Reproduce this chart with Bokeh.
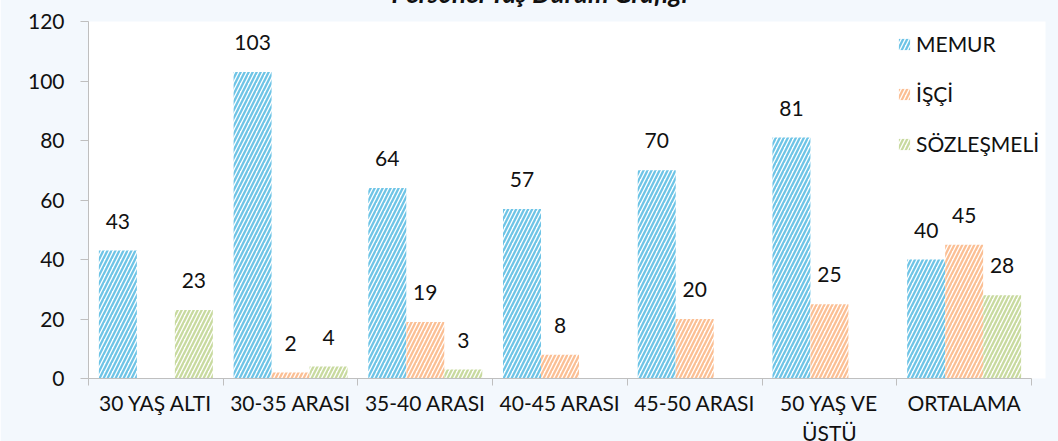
import numpy as np
from bokeh.plotting import figure
from bokeh.models import (FixedTicker, Range1d, Legend, LegendItem,
                          LabelSet, ColumnDataSource)
from bokeh.core.properties import value
from bokeh.embed import file_html
from bokeh.resources import INLINE

title_text = "Personel Yaş Durum Grafiği"
categories = ["30 YAŞ ALTI", "30-35 ARASI", "35-40 ARASI", "40-45 ARASI",
              "45-50 ARASI", "50 YAŞ VE\nÜSTÜ", "ORTALAMA"]
series_names = ["MEMUR", "İŞÇİ", "SÖZLEŞMELİ"]
memur = [43, 103, 64, 57, 70, 81, 40]
isci = [None, 2, 19, 8, 20, 25, 45]
sozlesmeli = [23, 4, 3, None, None, None, 28]
y_ticks = [0, 20, 40, 60, 80, 100, 120]
colors = ["#6EC4E6", "#FBBF94", "#C8DA9F"]

FONT = "Lato"
FS = "21px"
TXT = "#111111"
AX = "#BFBFBF"
SHIFT = 45                      # canvas starts above the page top (title cut off)
W, H = 1058, 441 + SHIFT
LEFT, TOP, BOTTOM = 88, 21 + SHIFT, 63
AXIS_W = 943                    # pixel width of the 7 categories
FRAME_W, FRAME_H = 957, 357
n = len(categories)

p = figure(width=W, height=H, output_backend="svg", toolbar_location=None,
           x_range=Range1d(0, n * FRAME_W / AXIS_W), y_range=Range1d(0, 120),
           frame_width=FRAME_W, frame_height=FRAME_H,
           min_border_left=LEFT, min_border_right=W - LEFT - FRAME_W,
           min_border_top=TOP, min_border_bottom=BOTTOM)
p.styles = {"margin-top": f"-{SHIFT}px"}
p.border_fill_color = "#F3F8FD"
p.background_fill_color = None
p.outline_line_color = None
p.xgrid.visible = False
p.ygrid.visible = False

p.title.text = title_text
p.title.align = "left"
p.title.offset = 303
p.title.standoff = 26
p.title.text_font = FONT
p.title.text_font_size = "26px"
p.title.text_font_style = "bold italic"
p.title.text_color = TXT

# x axis: labels at category centres, ticks at category boundaries
p.xaxis.bounds = (0, n)
p.xaxis.ticker = FixedTicker(ticks=[i + 0.5 for i in range(n)],
                             minor_ticks=list(range(n + 1)))
p.xaxis.major_label_overrides = {i + 0.5: c for i, c in enumerate(categories)}
p.xaxis.major_tick_line_color = None
p.xaxis.minor_tick_line_color = AX
p.xaxis.minor_tick_in = 0
p.xaxis.minor_tick_out = 7
p.xaxis.axis_line_color = AX
p.xaxis.major_label_standoff = 4
p.xaxis.major_label_text_font = FONT
p.xaxis.major_label_text_font_size = FS
p.xaxis.major_label_text_color = TXT

p.yaxis.ticker = FixedTicker(ticks=y_ticks)
p.yaxis.major_tick_in = 0
p.yaxis.major_tick_out = 8
p.yaxis.major_tick_line_color = AX
p.yaxis.minor_tick_line_color = None
p.yaxis.axis_line_color = AX
p.yaxis.major_label_standoff = 16
p.yaxis.major_label_text_font = FONT
p.yaxis.major_label_text_font_size = FS
p.yaxis.major_label_text_color = TXT

bw = 0.282
offsets = [-bw, 0.0, bw]
items = []
for name, vals, col, off in zip(series_names, [memur, isci, sozlesmeli], colors, offsets):
    xs = [i + 0.5 + off for i in range(n)]
    tops = [np.nan if v is None else v for v in vals]
    r = p.vbar(x=xs, top=tops, bottom=0, width=bw, fill_color="white",
               line_color=None, hatch_pattern="/", hatch_color=col,
               hatch_scale=8, hatch_weight=2.3)
    items.append(LegendItem(label=name, renderers=[r]))
    lx = [x for x, v in zip(xs, vals) if v is not None]
    ly = [v for v in vals if v is not None]
    src = ColumnDataSource(dict(x=lx, y=ly, t=[str(v) for v in ly]))
    p.add_layout(LabelSet(x="x", y="y", text="t", source=src, y_offset=22,
                          text_align="center", text_baseline="alphabetic",
                          text_font=value(FONT), text_font_size=value(FS),
                          text_color=TXT))

legend = Legend(items=items, location=(809, 222), background_fill_alpha=0,
                border_line_color=None, padding=0, margin=0, spacing=25,
                glyph_width=14, glyph_height=14, label_standoff=5,
                label_text_font=FONT, label_text_font_size=FS,
                label_text_color=TXT)
p.add_layout(legend)

open("out.html", "w").write(file_html(p, INLINE))
